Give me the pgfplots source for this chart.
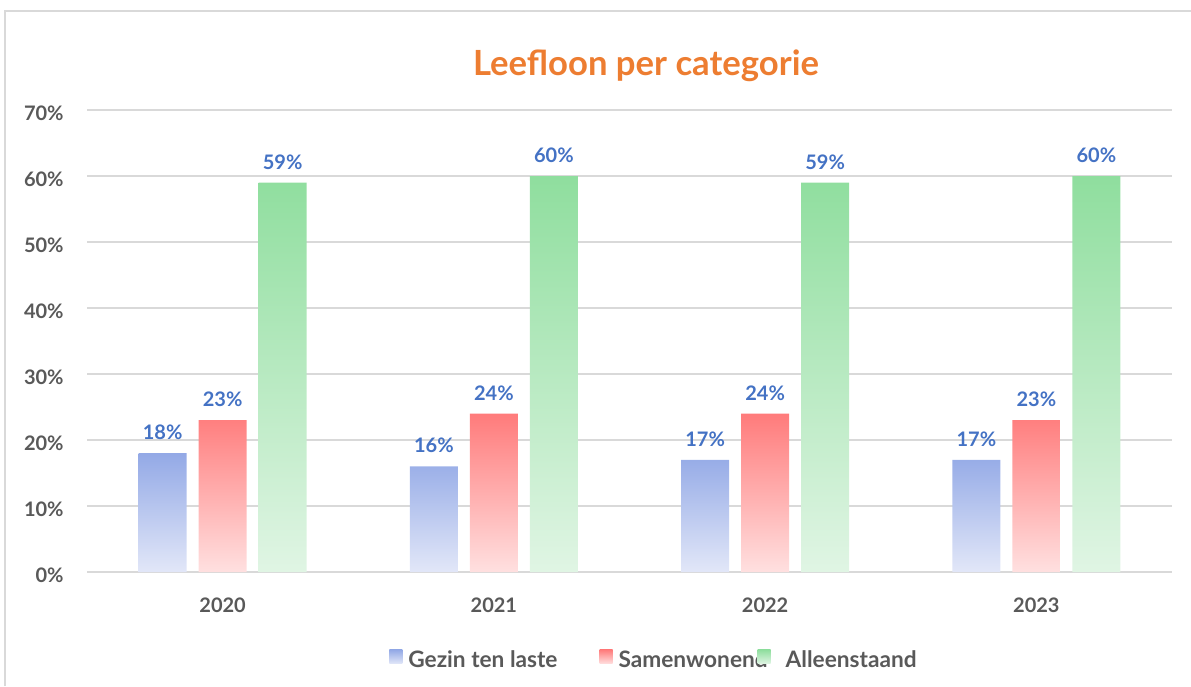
\documentclass[border=0pt]{standalone}
\usepackage{pgfplots}
\pgfplotsset{compat=1.18}
\usepackage{fontspec}
\setmainfont{Lato}
\definecolor{gridc}{HTML}{D9D9D9}
\definecolor{txt}{HTML}{595959}
\definecolor{lbl}{HTML}{4472C4}
\definecolor{ttl}{HTML}{ED7D31}
\definecolor{bT}{HTML}{93A9E6}
\definecolor{bB}{HTML}{E2E7F8}
\definecolor{rT}{HTML}{FF7B7B}
\definecolor{rB}{HTML}{FFE0E0}
\definecolor{gT}{HTML}{8FDE9E}
\definecolor{gB}{HTML}{E0F5E4}
\pgfplotstableread{
x gezin samen alleen
0 18 23 59
1 16 24 60
2 17 24 59
3 17 23 60
}\datatable
\begin{document}
\begin{tikzpicture}[x=0.75pt,y=0.75pt]
\useasboundingbox (0,0) rectangle (1191,686);
\draw[gridc,line width=1.5pt] (5,0) -- (5,675) -- (1191,675);
\node[font=\bfseries\fontsize{26}{30}\selectfont,text=ttl] at (646,620) {Leefloon per categorie};
\begin{axis}[
  at={(65.25pt,85.5pt)}, anchor=south west,
  scale only axis,
  width=813.75pt, height=346.5pt,
  xmin=-0.5, xmax=3.5, ymin=0, ymax=70,
  ytick={0,10,...,70},
  xtick=data, xticklabels={2020,2021,2022,2023},
  axis line style={draw=none},
  major tick length=0pt,
  ymajorgrids, grid style={gridc,line width=1.5pt},
  /pgf/number format/assume math mode=true,
  yticklabel={\pgfmathprintnumber{\tick}\%},
  ticklabel style={font=\bfseries\fontsize{15}{18}\selectfont,text=txt},
  yticklabel style={xshift=-14pt,yshift=-2.5pt},
  xticklabel style={yshift=-16pt},
  ybar=9pt, bar width=36pt,
  nodes near coords={\pgfmathprintnumber[fixed,precision=0]{\pgfplotspointmeta}\%},
  every node near coord/.append style={font=\bfseries\fontsize{15}{18}\selectfont,text=lbl,anchor=south,yshift=6.5pt},
  legend columns=3,
  legend style={at={(0.5217,-0.19)},anchor=center,draw=none,fill=none,
    font=\bfseries\fontsize{17}{20}\selectfont,text=txt,
    nodes={inner xsep=0pt},
    /tikz/column 1/.style={column sep=4.5pt},
    /tikz/column 2/.style={column sep=31.5pt},
    /tikz/column 3/.style={column sep=4.5pt},
    /tikz/column 4/.style={column sep=-7.5pt},
    /tikz/column 5/.style={column sep=11.25pt}},
  clip=false,
]
\addplot[draw=none, top color=bT, bottom color=bB,
  legend image code/.code={\shade[top color=bT,bottom color=bB] (0pt,-3pt) rectangle (9.75pt,7.5pt);}]
  table[x=x,y=gezin]{\datatable};
\addplot[draw=none, top color=rT, bottom color=rB,
  legend image code/.code={\shade[top color=rT,bottom color=rB] (0pt,-3pt) rectangle (9.75pt,7.5pt);}]
  table[x=x,y=samen]{\datatable};
\addplot[draw=none, top color=gT, bottom color=gB,
  legend image code/.code={\shade[top color=gT,bottom color=gB] (0pt,-3pt) rectangle (9.75pt,7.5pt);}]
  table[x=x,y=alleen]{\datatable};
\legend{Gezin ten laste,Samenwonend,Alleenstaand}
\end{axis}
\end{tikzpicture}
\end{document}
